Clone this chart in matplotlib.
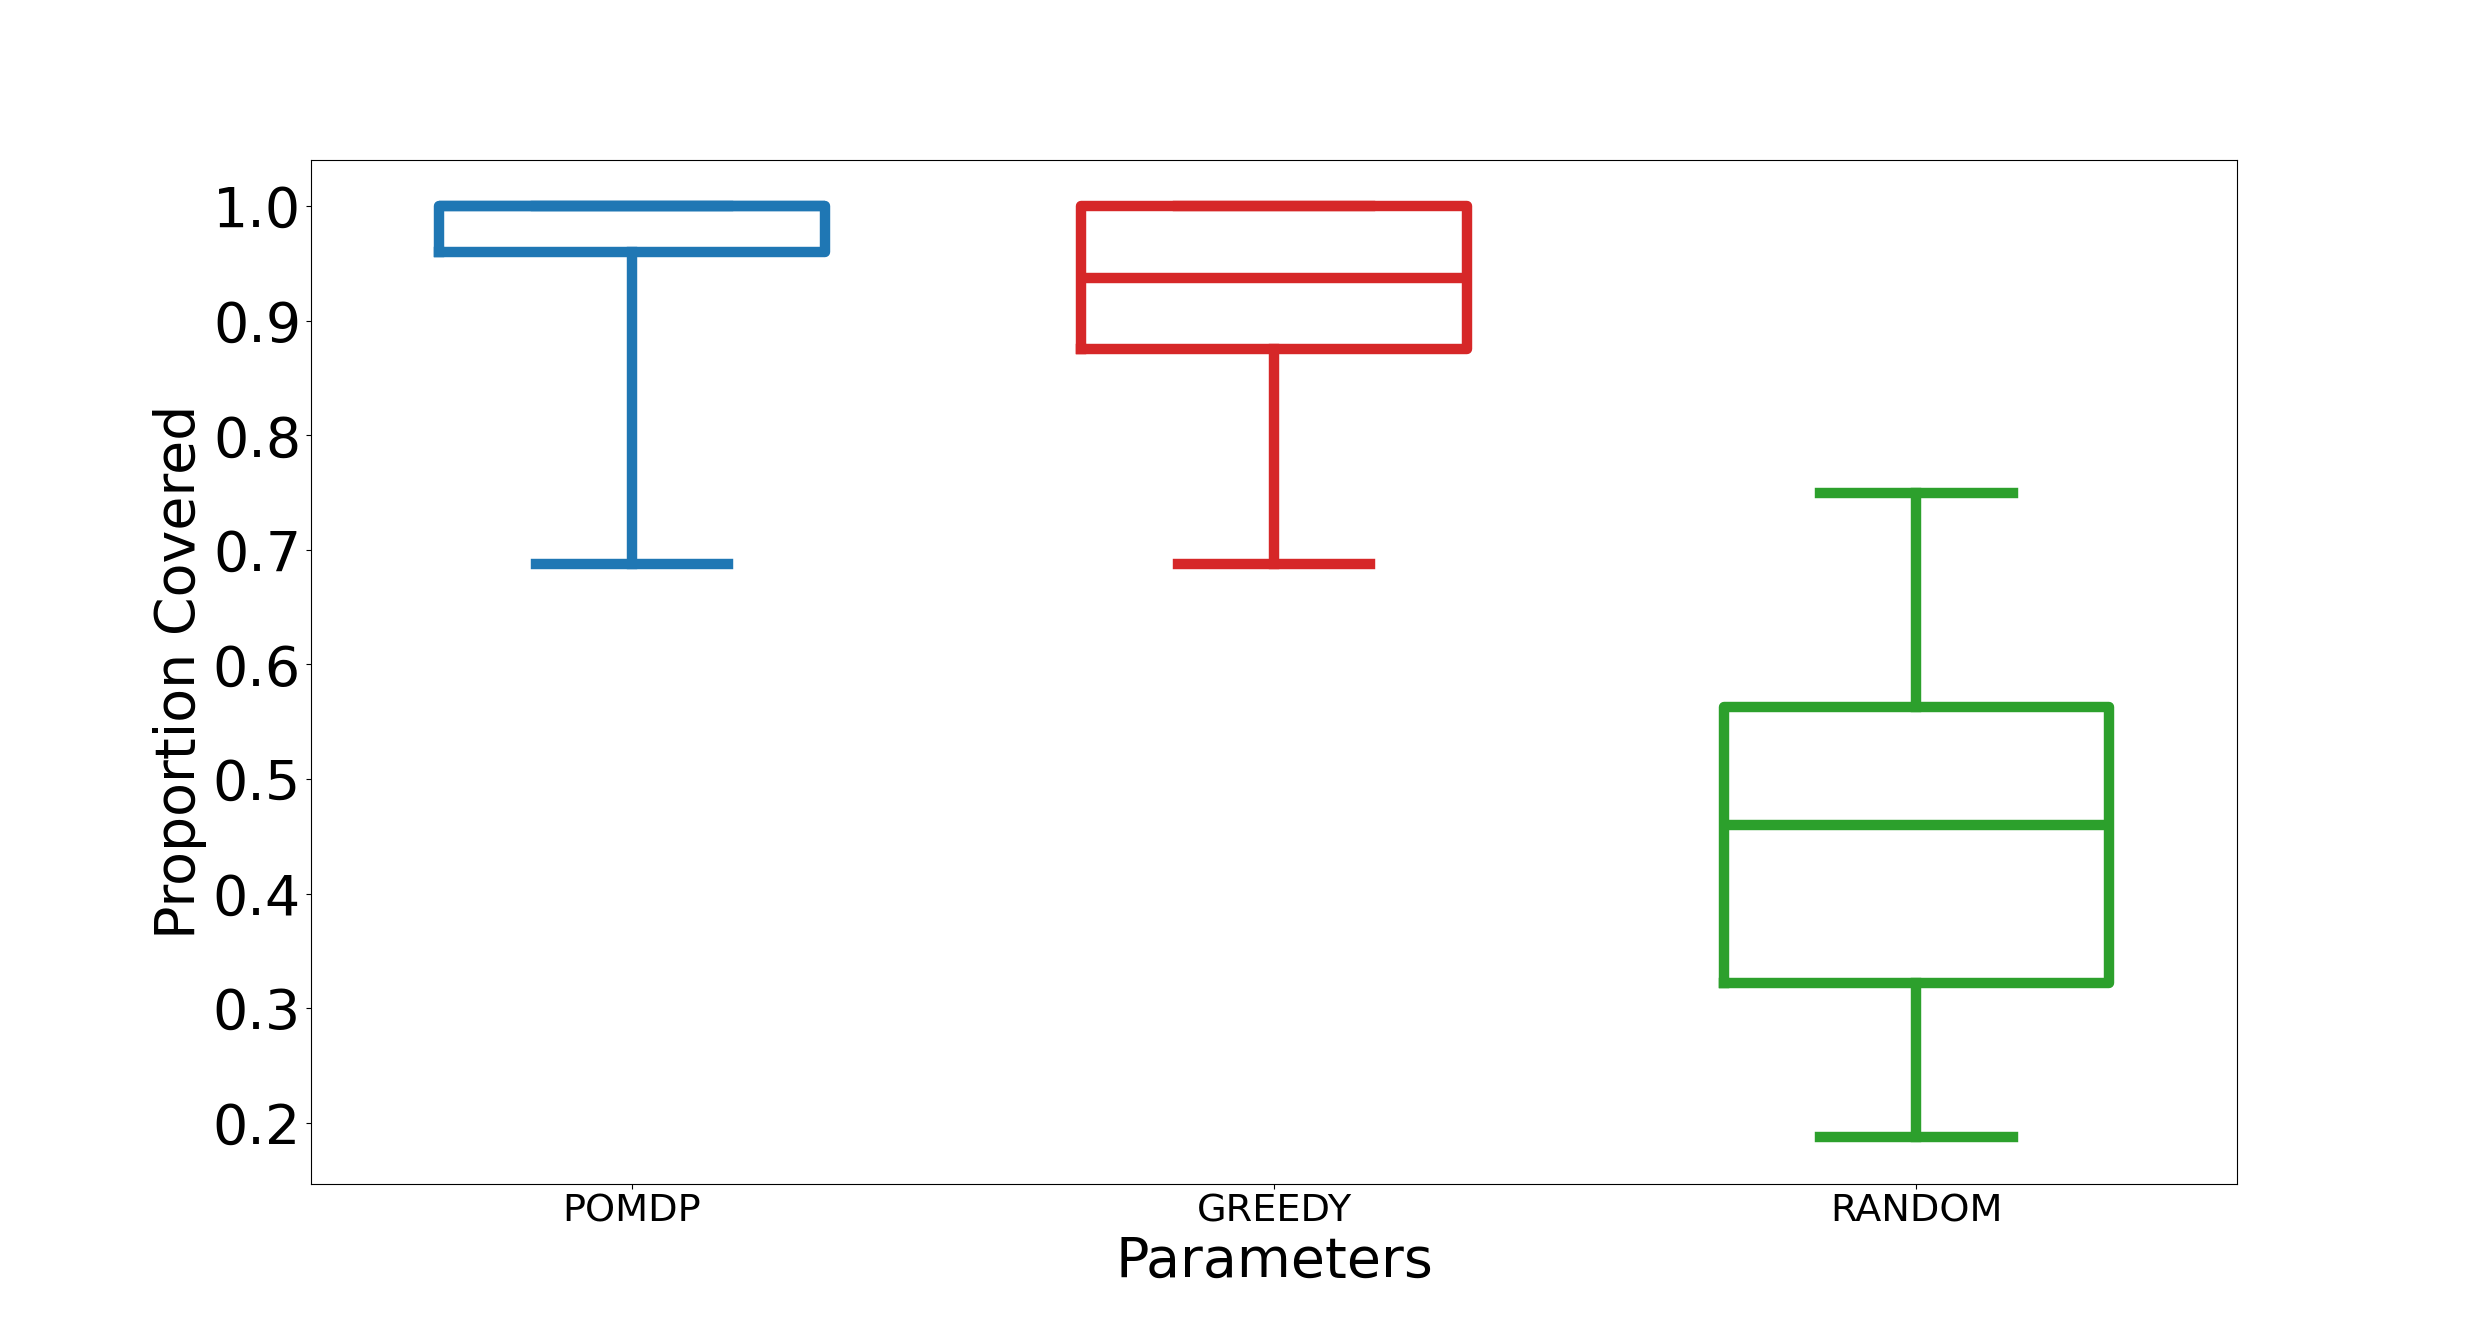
import matplotlib
matplotlib.use('Agg')
import matplotlib.pyplot as plt


metodos = ['POMDP', 'GREEDY', 'RANDOM']
cores = ['#1f77b4', '#d62728', '#2ca02c']

minimo = [0.6875, 0.6875, 0.1875]
q1 = [0.96, 0.875, 0.322]
mediana = [1.0, 0.9375, 0.46]
q3 = [1.0, 1.0, 0.5625]
maximo = [1.0, 1.0, 0.75]

estatisticas = []
for i in range(len(metodos)):
    estatisticas.append({'label': metodos[i], 'whislo': minimo[i], 'q1': q1[i],
                         'med': mediana[i], 'q3': q3[i], 'whishi': maximo[i], 'fliers': []})

fig, ax = plt.subplots(figsize=(24.86, 13.3), dpi=100)

lw = 7.5
caixas = ax.bxp(estatisticas, widths=0.6, showfliers=False, patch_artist=False)

for i, cor in enumerate(cores):
    caixas['boxes'][i].set(color=cor, linewidth=lw)
    caixas['medians'][i].set(color=cor, linewidth=lw)
    for linha in caixas['whiskers'][2 * i:2 * i + 2]:
        linha.set(color=cor, linewidth=lw)
    for linha in caixas['caps'][2 * i:2 * i + 2]:
        linha.set(color=cor, linewidth=lw)

ax.tick_params(axis='y', labelsize=40)
ax.tick_params(axis='x', labelsize=27.5)
ax.set_xlabel('Parameters', fontsize=40)
ax.set_ylabel('Proportion Covered', fontsize=40)

plt.savefig('out.png', dpi=100)
